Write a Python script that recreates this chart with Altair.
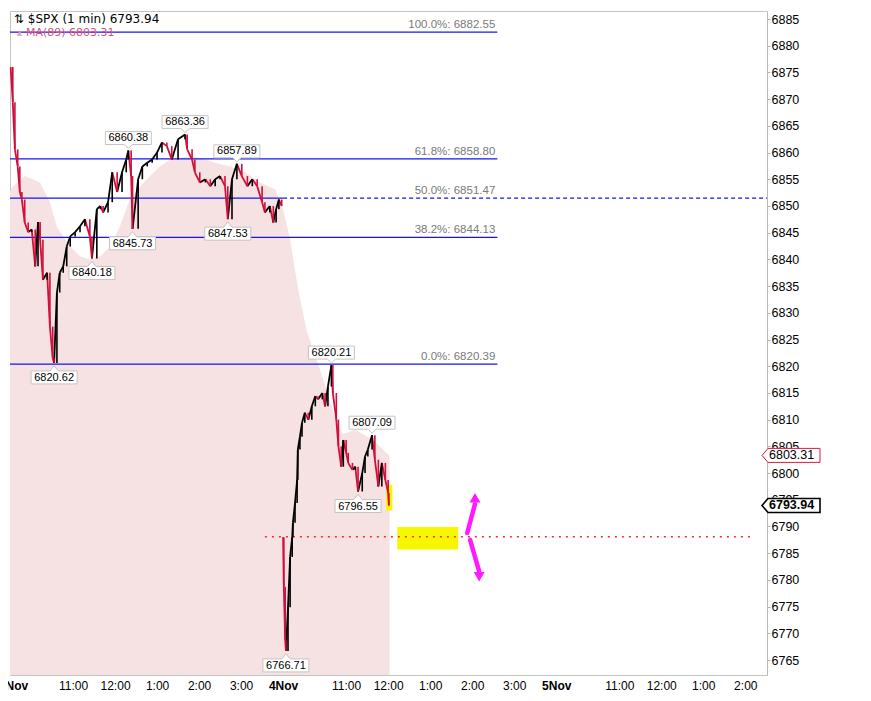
import json

import altair as alt
import pandas as pd

# trading minutes per session (9:30 - 16:00); x is minutes since 3 Nov open
SESSION = 390
X_END = 1081
Y_MIN, Y_MAX = 6762.2, 6886.5

tick_minutes = [0, 90, 150, 210, 270, 330, 390, 480, 540, 600, 660, 720,
                780, 870, 930, 990, 1050]
tick_labels = ["3Nov", "11:00", "12:00", "1:00", "2:00", "3:00", "4Nov",
               "11:00", "12:00", "1:00", "2:00", "3:00", "5Nov", "11:00",
               "12:00", "1:00", "2:00"]
y_ticks = list(range(6765, 6886, 5))

# $SPX 1-min (minutes since that day's open)
nov3_min = [1, 4, 7, 11, 14, 17, 21, 26, 31, 36, 40, 43, 47, 53, 57, 61, 63,
            67, 71, 76, 81, 86, 93, 100, 107, 114, 117, 124, 129, 133, 140,
            146, 153, 160, 166, 169, 173, 175, 183, 189, 196, 203, 210, 217,
            224, 231, 240, 250, 253, 260, 264, 271, 279, 286, 293, 300, 307,
            311, 317, 324, 331, 339, 346, 353, 360, 364, 371, 376, 380, 384,
            388]
nov3_px = [6876.0, 6869.4, 6860.6, 6857.4, 6852.6, 6851.2, 6846.9, 6845.1,
           6845.6, 6838.7, 6847.0, 6843.7, 6836.2, 6837.5, 6827.4, 6821.5,
           6820.62, 6833.8, 6837.5, 6838.7, 6842.4, 6844.3, 6845.1, 6846.2,
           6847.5, 6844.3, 6840.18, 6849.4, 6850.0, 6848.8, 6850.7, 6856.3,
           6852.6, 6856.3, 6858.7, 6860.38, 6855.6, 6845.73, 6855.0, 6857.4,
           6858.1, 6858.7, 6860.0, 6861.9, 6861.2, 6858.7, 6862.5, 6863.36,
           6860.6, 6858.7, 6856.3, 6854.4, 6855.0, 6853.7, 6855.0, 6855.6,
           6853.7, 6847.53, 6855.0, 6857.89, 6855.6, 6853.7, 6855.0, 6853.7,
           6850.7, 6848.8, 6850.0, 6846.9, 6849.4, 6851.2, 6850.0]
nov4_min = [0, 1, 3, 4, 7, 10, 13, 14, 17, 20, 21, 24, 27, 31, 36, 41, 46,
            50, 56, 60, 64, 69, 71, 76, 79, 83, 86, 90, 93, 99, 103, 107, 113,
            117, 121, 127, 131, 136, 141, 146, 150, 151]
nov4_px = [6788.0, 6778.7, 6768.7, 6766.71, 6774.9, 6784.3, 6788.0, 6790.7,
           6794.4, 6798.7, 6804.4, 6806.8, 6809.4, 6811.3, 6810.0, 6812.5,
           6814.4, 6813.8, 6815.0, 6812.5, 6816.2, 6820.21, 6815.0, 6810.0,
           6805.0, 6801.2, 6806.2, 6803.8, 6801.9, 6800.6, 6801.2, 6796.55,
           6800.0, 6803.1, 6804.4, 6807.09, 6802.5, 6797.5, 6801.9, 6798.7,
           6796.3, 6793.94]

# MA(89) shaded area
ma_min = [0, 3, 21, 43, 57, 67, 86, 100, 114, 129, 143, 157, 171, 186, 200,
          214, 229, 243, 257, 271, 293, 314, 336, 357, 379, 390, 400, 412,
          424, 438, 452, 465, 475, 493, 519, 534, 542]
ma_val = [6852.6, 6853.5, 6855.6, 6854.4, 6850.7, 6846.0, 6842.4, 6840.6,
          6840.0, 6840.6, 6842.4, 6846.2, 6851.2, 6853.7, 6855.6, 6857.4,
          6858.7, 6859.0, 6859.3, 6859.0, 6858.1, 6857.4, 6856.3, 6854.4,
          6853.1, 6849.4, 6843.7, 6834.0, 6826.5, 6821.2, 6815.6, 6810.0,
          6807.3, 6808.1, 6806.2, 6804.2, 6803.31]

# Fibonacci retracement
fib_pct = ["100.0%", "61.8%", "50.0%", "38.2%", "0.0%"]
fib_level = [6882.55, 6858.80, 6851.47, 6844.13, 6820.39]
FIB_END = 696

# annotated highs / lows
peak_values = [6860.38, 6863.36, 6857.89, 6820.21, 6807.09]
trough_values = [6845.73, 6840.18, 6847.53, 6820.62, 6796.55, 6766.71]

last_price = 6793.94
last_ma = 6803.31
target_level = 6788.1

FONT = "Liberation Sans"
BLUE = "#1414f0"

# ---- tables ----
seg_rows = []
for day, (mins, prices) in enumerate([(nov3_min, nov3_px), (nov4_min, nov4_px)]):
    for i in range(1, len(mins)):
        seg_rows.append(dict(
            t=day * SESSION + mins[i - 1], p=prices[i - 1],
            t2=day * SESSION + mins[i], p2=prices[i],
            dir="up" if prices[i] >= prices[i - 1] else "down"))
segs = pd.DataFrame(seg_rows)

price_lookup = {}
for day, (mins, prices) in enumerate([(nov3_min, nov3_px), (nov4_min, nov4_px)]):
    for m, p in zip(mins, prices):
        price_lookup[p] = day * SESSION + m

labels = pd.DataFrame(
    [dict(t=price_lookup[v], p=v, txt=f"{v:.2f}", pos="above") for v in peak_values]
    + [dict(t=price_lookup[v], p=v, txt=f"{v:.2f}", pos="below") for v in trough_values])

ma = pd.DataFrame({"t": ma_min, "p": ma_val})

fib = pd.DataFrame({"p": fib_level,
                    "txt": [f"{a}: {b:.2f}" for a, b in zip(fib_pct, fib_level)]})
fib["t"] = 0
fib["t2"] = FIB_END
fib.loc[fib["txt"].str.startswith("50.0"), "t2"] = SESSION
fib["tl"] = FIB_END - 3
fib_dash = pd.DataFrame({"t": [SESSION], "t2": [X_END], "p": [fib_level[2]]})

label_expr = (f"{json.dumps(tick_labels)}"
              f"[indexof({json.dumps(tick_minutes)}, datum.value)]")

x_axis = alt.Axis(values=tick_minutes, labelExpr=label_expr, grid=False,
                  domain=False, ticks=False, labelPadding=5,
                  labelFontSize=12, labelFont=FONT, labelColor="black",
                  labelOverlap=False, labelFlush=False,
                  labelOffset=alt.condition("datum.value === 0",
                                            alt.value(3), alt.value(0)),
                  labelFontWeight=alt.condition(
                      "datum.value % 390 === 0",
                      alt.value("bold"), alt.value("normal")))
y_axis = alt.Axis(orient="right", values=y_ticks, format="d", grid=False,
                  labelFontSize=12.5, labelFont=FONT, labelColor="black",
                  labelPadding=1, tickSize=3, tickColor="#b0b0b0",
                  domainColor="#b0b0b0", domainDash=[1, 1],
                  labelOverlap=False, labelSeparation=0)
x_scale = alt.Scale(domain=[0, X_END], nice=False, zero=False)
y_scale = alt.Scale(domain=[Y_MIN, Y_MAX], nice=False, zero=False)


def X(field="t"):
    return alt.X(f"{field}:Q", title=None, scale=x_scale, axis=x_axis)


def Y(field="p"):
    return alt.Y(f"{field}:Q", title=None, scale=y_scale, axis=y_axis)


area = alt.Chart(ma).mark_area(color="#f6e2e2", clip=True).encode(
    x=X(), y=Y(), y2=alt.datum(Y_MIN))

fib_lines = alt.Chart(fib).mark_rule(color=BLUE, strokeWidth=1.2).encode(
    x=X(), x2="t2:Q", y=Y())
fib_dashed = alt.Chart(fib_dash).mark_rule(
    color=BLUE, strokeWidth=1.2, strokeDash=[4, 3]).encode(
    x=X(), x2="t2:Q", y=Y())
fib_text = alt.Chart(fib).mark_text(
    align="right", baseline="bottom", dy=-2, font=FONT, fontSize=11.5,
    color="#7a7a7a").encode(x=X("tl"), y=Y(), text="txt:N")

target = alt.Chart(pd.DataFrame({"t": [364], "t2": [1057], "p": [target_level]})).mark_rule(
    color="#ff2a2a", strokeWidth=1.5, strokeDash=[2, 5]).encode(
    x=X(), x2="t2:Q", y=Y())

highlight = alt.Chart(pd.DataFrame({
    "t": [537, 553], "t2": [546, 640],
    "p": [6793.0, 6785.7], "p2": [6797.8, 6789.9]})).mark_rect(
    color="#f7f700").encode(x=X(), x2="t2:Q", y=Y(), y2="p2:Q")

arrows = alt.Chart(pd.DataFrame({
    "t": [653, 657], "t2": [664, 670],
    "p": [6788.8, 6787.5], "p2": [6794.2, 6781.6]})).mark_rule(
    color="#ff1aff", strokeWidth=4.5, strokeCap="round").encode(
    x=X(), x2="t2:Q", y=Y(), y2="p2:Q")
heads = alt.Chart(pd.DataFrame({
    "t": [664, 670], "p": [6795.4, 6780.6], "shape": ["triangle-up", "triangle-down"]})).mark_point(
    filled=True, color="#ff1aff", size=120, opacity=1).encode(
    x=X(), y=Y(),
    shape=alt.Shape("shape:N", scale=None))

dir_color = alt.Color("dir:N", legend=None,
                      scale=alt.Scale(domain=["up", "down"],
                                      range=["#000000", "#d0103a"]))
price = alt.Chart(segs).mark_rule(strokeWidth=1.8).encode(
    x=X(), x2="t2:Q", y=Y(), y2="p2:Q", color=dir_color)
# each move also drawn as a vertical 1-min bar
bars = alt.Chart(segs).mark_rule(strokeWidth=1.6).encode(
    x=X("t2"), y=Y(), y2="p2:Q", color=dir_color)

box_above = "M-1,-0.826H1V-0.261H0.18L0,-0.09L-0.18,-0.261H-1Z"
box_below = "M-1,0.913H1V0.348H0.18L0,0.12L-0.18,0.348H-1Z"
boxes = alt.Chart(labels).mark_point(
    filled=False, fill="white", fillOpacity=1, stroke="#c4c4c4",
    strokeWidth=1, size=46 ** 2, opacity=1).encode(
    x=X(), y=Y(),
    shape=alt.Shape("pos:N", legend=None,
                    scale=alt.Scale(domain=["above", "below"],
                                    range=[box_above, box_below])))
txt_above = alt.Chart(labels).transform_filter(
    "datum.pos === 'above'").mark_text(
    font=FONT, fontSize=11, dy=-12.5, color="black").encode(
    x=X(), y=Y(), text="txt:N")
txt_below = alt.Chart(labels).transform_filter(
    "datum.pos === 'below'").mark_text(
    font=FONT, fontSize=11, dy=15, color="black").encode(
    x=X(), y=Y(), text="txt:N")

tag_path = "M0,0L0.24,-0.28H2.32V0.28H0.24Z"
tags = pd.DataFrame({"p": [last_ma, last_price],
                     "txt": [f"{last_ma:.2f}", f"{last_price:.2f}"],
                     "kind": ["ma", "last"]})
tag_boxes = alt.Chart(tags).mark_point(
    shape=tag_path, size=2500, fill="white", fillOpacity=1, opacity=1).encode(
    x=alt.value(752), y=Y(),
    stroke=alt.Stroke("kind:N", legend=None,
                      scale=alt.Scale(domain=["ma", "last"],
                                      range=["#d81b44", "#000000"])),
    strokeWidth=alt.StrokeWidth("kind:N", legend=None,
                                scale=alt.Scale(domain=["ma", "last"],
                                                range=[1, 1.6])))
tag_ma = alt.Chart(tags).transform_filter("datum.kind === 'ma'").mark_text(
    align="left", font=FONT, fontSize=12.5, color="black").encode(
    x=alt.value(759), y=Y(), text="txt:N")
tag_last = alt.Chart(tags).transform_filter("datum.kind === 'last'").mark_text(
    align="left", font=FONT, fontSize=12.5, fontWeight="bold",
    color="black").encode(x=alt.value(759), y=Y(), text="txt:N")

head = pd.DataFrame({"s": [f"\u21c5 $SPX (1 min) {last_price:.2f}"],
                     "m": [f"MA(89) {last_ma:.2f}"]})
title_txt = alt.Chart(head).mark_text(
    align="left", font="DejaVu Sans", fontSize=12, color="black").encode(
    x=alt.value(4), y=alt.value(8), text="s:N")
ma_icon = alt.Chart(head).mark_text(
    align="left", fontSize=9, color="#f2a3b3").encode(
    x=alt.value(5), y=alt.value(22), text=alt.value("\u25b2"))
ma_txt = alt.Chart(head).mark_text(
    align="left", font="DejaVu Sans", fontSize=11, color="#e2506f").encode(
    x=alt.value(16), y=alt.value(22), text="m:N")

chart = alt.layer(
    area, highlight, fib_lines, fib_dashed, fib_text, target, price, bars,
    arrows, heads, boxes, txt_above, txt_below, tag_boxes, tag_ma, tag_last,
    title_txt, ma_icon, ma_txt
).properties(
    width=757, height=664,
    autosize=alt.AutoSizeParams(type="none"),
    padding={"left": 2, "top": 3, "right": 90, "bottom": 16},
    background="white"
).configure_view(
    stroke="#c4c4c4", strokeWidth=1
).configure_axis(labelOverlap=False)

chart.save("out.html", embed_options={"renderer": "svg", "actions": False})
